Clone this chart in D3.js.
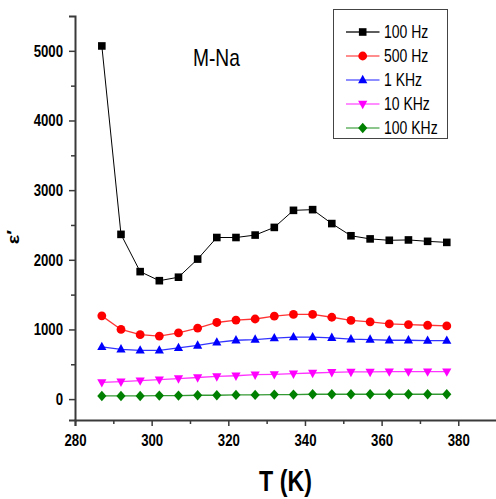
<!DOCTYPE html>
<html>
<head>
<meta charset="utf-8">
<script src="https://cdn.jsdelivr.net/npm/d3@7"></script>
<style>
  body { margin: 0; background: #fff; }
  svg { display: block; font-family: "Liberation Sans", Arial, sans-serif; }
</style>
</head>
<body>
<script>
// data
const temps = [287, 292, 297, 302, 307, 312, 317, 322, 327, 332, 337, 342, 347, 352, 357, 362, 367, 372, 377];
const eps_100hz = [5070, 2365, 1830, 1700, 1750, 2010, 2320, 2320, 2355, 2465, 2710, 2720, 2520, 2345, 2300, 2280, 2285, 2265, 2250];
const eps_500hz = [1195, 1000, 925, 905, 950, 1020, 1100, 1135, 1150, 1190, 1215, 1215, 1175, 1130, 1110, 1080, 1070, 1060, 1050];
const eps_1khz = [750, 715, 700, 700, 735, 770, 815, 845, 855, 875, 890, 890, 880, 860, 855, 845, 845, 840, 840];
const eps_10khz = [240, 250, 265, 280, 295, 310, 325, 335, 350, 355, 365, 375, 385, 390, 390, 395, 395, 395, 395];
const eps_100khz = [45, 45, 45, 50, 50, 55, 55, 60, 60, 65, 65, 70, 70, 70, 70, 70, 70, 70, 70];
const series_names = ["100 Hz", "500 Hz", "1 KHz", "10 KHz", "100 KHz"];
const x_ticks = [280, 300, 320, 340, 360, 380];
const x_minor = [290, 310, 330, 350, 370];
const y_ticks = [0, 1000, 2000, 3000, 4000, 5000];
const y_minor = [500, 1500, 2500, 3500, 4500];

const W = 496, H = 499;
const SQUEEZE = 0.8; // text in the reference is horizontally narrowed

const series = [
    {name: series_names[0], values: eps_100hz, color: "#000000", marker: "square", lw: 1},
    {name: series_names[1], values: eps_500hz, color: "#ff0000", marker: "circle", lw: 1.3},
    {name: series_names[2], values: eps_1khz, color: "#0000ff", marker: "up", lw: 1.3},
    {name: series_names[3], values: eps_10khz, color: "#ff00ff", marker: "down", lw: 1.3},
    {name: series_names[4], values: eps_100khz, color: "#008000", marker: "diamond", lw: 1.3}
];

const x = d3.scaleLinear().domain([280, 390]).range([75, 496.6]);
const y = d3.scaleLinear().domain([-300, 5500]).range([420, 16]);

const svg = d3.select("body").append("svg")
    .attr("width", W)
    .attr("height", H);

const marker_path = function (kind) {
    switch (kind) {
        case "square": return "M-3.8,-3.8H3.8V3.8H-3.8Z";
        case "circle": return d3.symbol(d3.symbolCircle, Math.PI * 4.4 * 4.4)();
        case "up": return "M0,-5.2L4.6,3.2L-4.6,3.2Z";
        case "down": return "M0,5.2L4.6,-3.2L-4.6,-3.2Z";
        case "diamond": return "M0,-5.2L4.6,0L0,5.2L-4.6,0Z";
    }
};

// series lines and markers
const line = d3.line()
    .x((d, i) => x(temps[i]))
    .y(d => y(d));

const plot = svg.append("g").attr("class", "Series");
series.forEach(s => {
    const g = plot.append("g");
    g.append("path")
        .attr("d", line(s.values))
        .attr("fill", "none")
        .attr("stroke", s.color)
        .attr("stroke-opacity", s.marker === "square" ? 1 : 0.8)
        .attr("stroke-width", s.lw);
    g.selectAll("path.Marker")
        .data(s.values)
        .enter()
        .append("path")
        .attr("class", "Marker")
        .attr("d", marker_path(s.marker))
        .attr("transform", (d, i) => "translate(" + x(temps[i]) + "," + y(d) + ")")
        .attr("fill", s.color);
});

// axes
const axis_color = "#3a3a3a";

const x_axis = svg.append("g")
    .attr("transform", "translate(0," + y(-300) + ")")
    .call(d3.axisBottom(x).tickValues(x_ticks).tickSize(6).tickPadding(8).tickFormat(d3.format("d")));
svg.append("g")
    .attr("transform", "translate(0," + y(-300) + ")")
    .call(d3.axisBottom(x).tickValues(x_minor).tickSize(4).tickFormat(""))
    .select(".domain").remove();

const y_axis = svg.append("g")
    .attr("transform", "translate(" + x(280) + ",0)")
    .call(d3.axisLeft(y).tickValues(y_ticks).tickSize(6).tickPadding(6).tickFormat(d3.format("d")));
svg.append("g")
    .attr("transform", "translate(" + x(280) + ",0)")
    .call(d3.axisLeft(y).tickValues(y_minor).tickSize(4).tickFormat(""))
    .select(".domain").remove();

svg.selectAll(".domain")
    .attr("stroke", axis_color)
    .attr("stroke-width", 2);
svg.selectAll(".tick line")
    .attr("stroke", axis_color)
    .attr("stroke-width", 1.5);

x_axis.selectAll("text")
    .attr("font-size", 16.5)
    .attr("font-weight", "bold")
    .attr("fill", "#000")
    .attr("y", 14)
    .attr("transform", "scale(" + SQUEEZE + ",1)");
y_axis.selectAll("text")
    .attr("font-size", 16.5)
    .attr("font-weight", "bold")
    .attr("fill", "#000")
    .attr("x", -12 / SQUEEZE)
    .attr("transform", "scale(" + SQUEEZE + ",1)");
svg.selectAll(".tick text").attr("font-family", null);

// axis titles
svg.append("text")
    .attr("transform", "translate(285.5,491) scale(" + SQUEEZE + ",1)")
    .attr("text-anchor", "middle")
    .attr("font-size", 29)
    .attr("font-weight", "bold")
    .text("T (K)");

svg.append("text")
    .attr("transform", "translate(19,237) rotate(-90) scale(1," + SQUEEZE + ")")
    .attr("text-anchor", "middle")
    .attr("font-size", 20)
    .attr("font-weight", "bold")
    .text("ε′");

svg.append("text")
    .attr("transform", "translate(193,66) scale(" + SQUEEZE + ",1)")
    .attr("font-size", 24)
    .text("M-Na");

// legend
const legend = svg.append("g").attr("class", "Legend");
legend.append("rect")
    .attr("x", 333.5)
    .attr("y", 9.5)
    .attr("width", 114)
    .attr("height", 129)
    .attr("fill", "#fff")
    .attr("stroke", "#444")
    .attr("stroke-width", 1);

const rows = legend.selectAll("g.Row")
    .data(series)
    .enter()
    .append("g")
    .attr("class", "Row")
    .attr("transform", (d, i) => "translate(0," + (32 + i * 24) + ")");
rows.append("line")
    .attr("x1", 346).attr("x2", 379.5)
    .attr("stroke", d => d.color)
    .attr("stroke-opacity", d => d.marker === "square" ? 0.85 : 0.6)
    .attr("stroke-width", 1.3);
rows.append("path")
    .attr("d", d => marker_path(d.marker))
    .attr("transform", "translate(362.7,0)")
    .attr("fill", d => d.color);
rows.append("text")
    .attr("transform", "translate(384,6.3) scale(" + SQUEEZE + ",1)")
    .attr("font-size", 17.5)
    .text(d => d.name);
</script>
</body>
</html>
